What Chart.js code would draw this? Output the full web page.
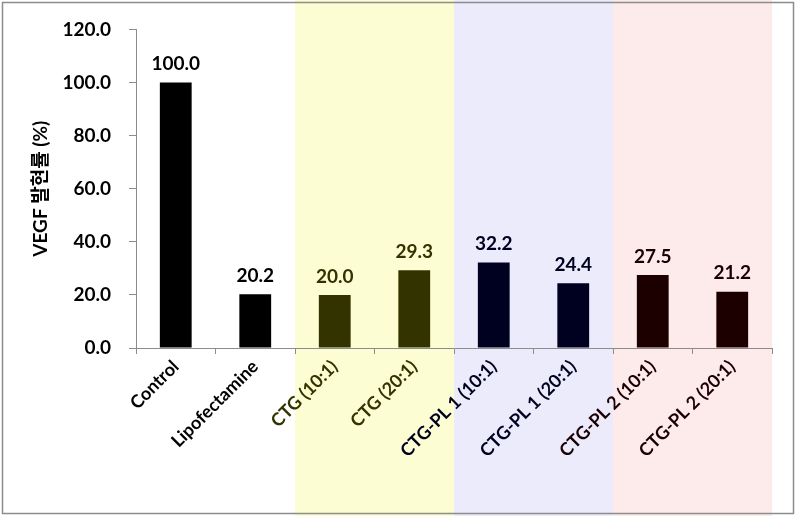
<!DOCTYPE html>
<html>
<head>
<meta charset="utf-8">
<script src="https://cdn.jsdelivr.net/npm/chart.js@4"></script>
<style>
  body { margin: 0; background: #fff; }
  #wrap { width: 796px; height: 516px; }
</style>
</head>
<body>
<div id="wrap"><canvas id="myChart" width="796" height="516"></canvas></div>
<script>
// datos del grafico
const categorias = ["Control", "Lipofectamine", "CTG (10:1)", "CTG (20:1)",
  "CTG-PL 1 (10:1)", "CTG-PL 1 (20:1)", "CTG-PL 2 (10:1)", "CTG-PL 2 (20:1)"];
const valores = [100.0, 20.2, 20.0, 29.3, 32.2, 24.4, 27.5, 21.2];
const ticksY = [0, 20, 40, 60, 80, 100, 120];

// colores por grupo
const coloresBarra = ["#000000", "#000000", "#333300", "#333300", "#000020", "#000020", "#1c0000", "#1c0000"];
const bandas = [
  { desde: 2, hasta: 3, color: "#fdfdd3" },
  { desde: 4, hasta: 5, color: "#ebebfb" },
  { desde: 6, hasta: 7, color: "#fdebeb" }
];

const fuente = "Lato, 'Noto Sans CJK KR', sans-serif";

// bandas de fondo + marco
const fondoPlugin = {
  id: "fondo",
  beforeDraw(chart) {
    const ctx = chart.ctx;
    const x = chart.scales.x;
    const paso = x.getPixelForValue(1) - x.getPixelForValue(0);
    ctx.save();
    ctx.fillStyle = "#fff";
    ctx.fillRect(0, 0, chart.width, chart.height);
    for (const b of bandas) {
      const x0 = x.getPixelForValue(b.desde) - paso / 2;
      const x1 = x.getPixelForValue(b.hasta) + paso / 2;
      ctx.fillStyle = b.color;
      ctx.fillRect(x0, 0, x1 - x0, chart.height);
    }
    ctx.restore();
  },
  afterDraw(chart) {
    const ctx = chart.ctx;
    ctx.save();
    ctx.strokeStyle = "#8c8c8c";
    ctx.lineWidth = 1.5;
    ctx.strokeRect(2.5, 2.5, chart.width - 5, chart.height - 5);
    ctx.restore();
  }
};

// etiquetas de valor encima de cada barra
const valoresPlugin = {
  id: "valores",
  afterDatasetsDraw(chart) {
    const ctx = chart.ctx;
    const meta = chart.getDatasetMeta(0);
    ctx.save();
    ctx.font = "bold 19px " + fuente;
    ctx.textAlign = "center";
    ctx.textBaseline = "bottom";
    meta.data.forEach((bar, i) => {
      ctx.fillStyle = coloresBarra[i];
      ctx.fillText(valores[i].toFixed(1), bar.x, bar.y - 9);
    });
    ctx.restore();
  }
};

const grafica = document.getElementById("myChart").getContext("2d");

const myChart = new Chart(grafica, {
  type: "bar",
  data: {
    labels: categorias,
    datasets: [{
      data: valores,
      backgroundColor: coloresBarra,
      barPercentage: 0.4,
      categoryPercentage: 1.0
    }]
  },
  plugins: [fondoPlugin, valoresPlugin],
  options: {
    responsive: false,
    animation: false,
    layout: { padding: { left: 0, right: 24, top: 25, bottom: 0 } },
    plugins: {
      legend: { display: false },
      tooltip: { enabled: false }
    },
    scales: {
      x: {
        offset: true,
        grid: { offset: true, drawOnChartArea: false, color: "#8c8c8c", tickLength: 6 },
        border: { color: "#8c8c8c" },
        ticks: {
          minRotation: 45,
          maxRotation: 45,
          color: (c) => coloresBarra[c.index],
          font: { family: fuente, size: 18, weight: "bold" },
          padding: 2
        },
        afterFit(scale) { scale.height = 168; }
      },
      y: {
        min: 0,
        max: 120,
        afterBuildTicks(scale) { scale.ticks = ticksY.map((v) => ({ value: v })); },
        grid: { drawOnChartArea: false, color: "#8c8c8c", tickLength: 7 },
        border: { color: "#8c8c8c" },
        ticks: {
          color: "#000",
          padding: 18,
          font: { family: fuente, size: 19, weight: "bold" },
          callback: (v) => Number(v).toFixed(1)
        },
        title: {
          display: true,
          text: "VEGF 발현률 (%)",
          color: "#000",
          font: { family: fuente, size: 19, weight: "bold" },
          padding: { top: 29, bottom: 0 }
        },
        afterFit(scale) { scale.width = 136; }
      }
    }
  }
});
</script>
</body>
</html>
